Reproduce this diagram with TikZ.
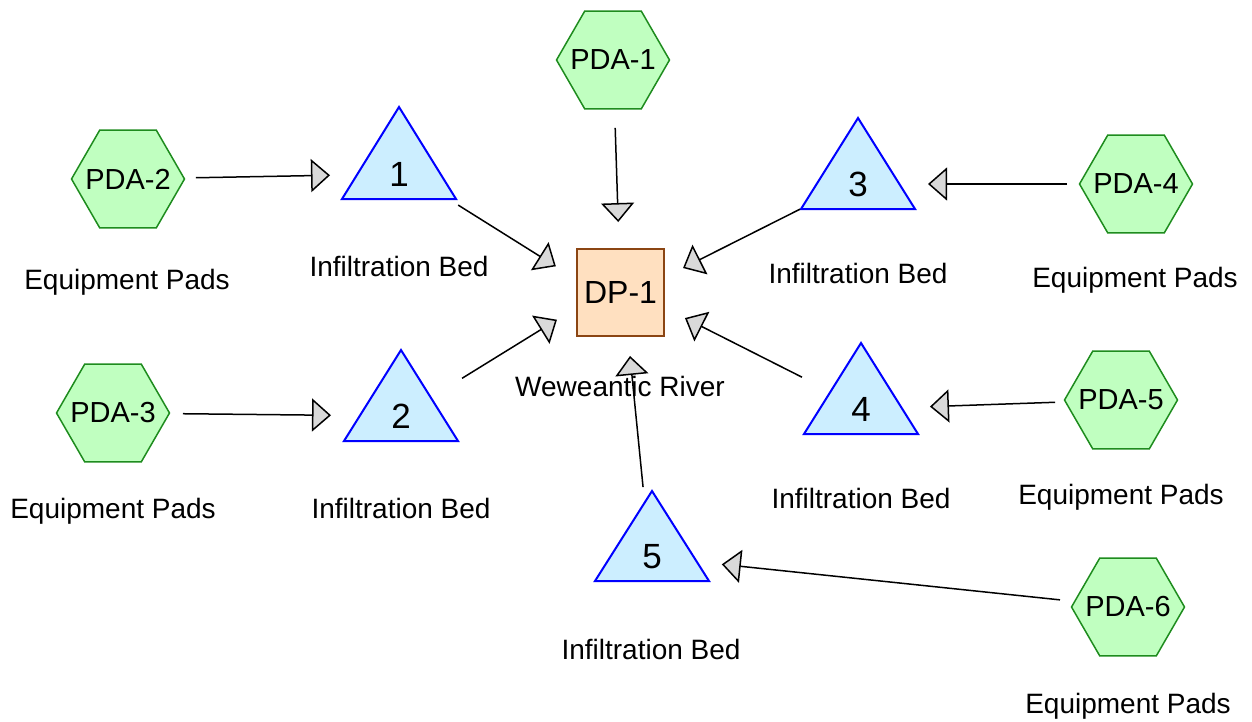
\documentclass[tikz,border=0pt]{standalone}
\usepackage{fontspec}
\setmainfont{Liberation Sans}
\usetikzlibrary{shapes.geometric,arrows.meta}
\definecolor{hexfill}{HTML}{C0FFC0}
\definecolor{hexdraw}{HTML}{1E8C1E}
\definecolor{trifill}{HTML}{CCEEFF}
\definecolor{tridraw}{HTML}{0000FF}
\definecolor{dpfill}{HTML}{FFE0C0}
\definecolor{dpdraw}{HTML}{8B4513}
\definecolor{tipfill}{HTML}{D9D9D9}
\newcommand{\hextext}[1]{\makebox[0pt]{#1}}
\begin{document}
\begin{tikzpicture}[x=0.5pt,y=-0.5pt,
  hexnode/.style={regular polygon, regular polygon sides=6, minimum size=56.5pt, inner sep=0pt, fill=hexfill, draw=hexdraw, line width=0.75pt, font=\fontsize{14.5}{17}\selectfont},
  numnode/.style={inner sep=0pt, font=\fontsize{17.5}{20}\selectfont},
  tripath/.style={fill=trifill, draw=tridraw, line width=1pt, line join=miter},
  dpnode/.style={rectangle, minimum size=43.5pt, inner sep=0pt, fill=dpfill, draw=dpdraw, line width=0.75pt, font=\fontsize{16}{19}\selectfont},
  lbl/.style={anchor=base, inner sep=0pt, font=\fontsize{14}{17}\selectfont},
  conn/.style={line width=0.75pt, -{Triangle[length=9.5pt,width=16.5pt,fill=tipfill]}},
]
\useasboundingbox (0,0) rectangle (1252,722);

% triangles (infiltration beds)
\draw[tripath] (399,107) -- ++(57,92) -- ++(-114,0) -- cycle;
\draw[tripath] (401,350) -- ++(57,91) -- ++(-114,0) -- cycle;
\draw[tripath] (858,118) -- ++(57,91) -- ++(-114,0) -- cycle;
\draw[tripath] (861,343) -- ++(57,91) -- ++(-114,0) -- cycle;
\draw[tripath] (652,491) -- ++(57,90) -- ++(-114,0) -- cycle;

\node[numnode] (t1) at (399,174) {1};
\node[numnode] (t2) at (401,416) {2};
\node[numnode] (t3) at (858,184) {3};
\node[numnode] (t4) at (861,409) {4};
\node[numnode] (t5) at (652,557) {5};

% hexagons
\node[hexnode] (pda1) at (613,60) {\hextext{PDA-1}};
\node[hexnode] (pda2) at (128,179) {\hextext{PDA-2}};
\node[hexnode] (pda3) at (113,413) {\hextext{PDA-3}};
\node[hexnode] (pda4) at (1136,184) {\hextext{PDA-4}};
\node[hexnode] (pda5) at (1121,400) {\hextext{PDA-5}};
\node[hexnode] (pda6) at (1128,607) {\hextext{PDA-6}};

% discharge point
\node[dpnode] (dp) at (620.5,292.5) {DP-1};

% labels
\node[lbl] (l2) at (127,289) {Equipment Pads};
\node[lbl] (l3) at (113,518) {Equipment Pads};
\node[lbl] (l4) at (1135,287) {Equipment Pads};
\node[lbl] (l5) at (1121,504) {Equipment Pads};
\node[lbl] (l6) at (1128,713) {Equipment Pads};
\node[lbl] (b1) at (399,276) {Infiltration Bed};
\node[lbl] (b2) at (401,518) {Infiltration Bed};
\node[lbl] (b3) at (858,283) {Infiltration Bed};
\node[lbl] (b4) at (861,508) {Infiltration Bed};
\node[lbl] (b5) at (651,659) {Infiltration Bed};
\node[lbl] (ld) at (620,396) {Weweantic River};

% connectors
\draw[conn, shorten <=34pt, shorten >=34.5pt] (pda2.center) -- (t1.center);
\draw[conn, shorten <=35pt, shorten >=35pt] (pda3.center) -- (t2.center);
\draw[conn, shorten <=34.5pt, shorten >=35pt] (pda4.center) -- (t3.center);
\draw[conn, shorten <=33pt, shorten >=34.5pt] (pda5.center) -- (t4.center);
\draw[conn, shorten <=34.2pt, shorten >=35.1pt] (pda6.center) -- (t5.center);
\draw[conn, shorten <=34pt, shorten >=35.25pt] (pda1.center) -- (dp.center);
\draw[conn, shorten <=34.9pt, shorten >=38.15pt] ([yshift=3pt]t1.center) -- ([yshift=-7.15pt]dp.center);
\draw[conn, shorten <=35.9pt, shorten >=37.35pt] (t2.center) -- ([yshift=6pt]dp.center);
\draw[conn, shorten <=32.45pt, shorten >=35pt] ([yshift=2pt]t3.center) -- ([yshift=-3.5pt]dp.center);
\draw[conn, shorten <=33.05pt, shorten >=36.1pt] ([yshift=1pt]t4.center) -- ([yshift=3.5pt]dp.center);
\draw[conn, shorten <=35.15pt, shorten >=31.9pt] ([xshift=-1pt]t5.center) -- ([xshift=1.6pt]dp.center);
\end{tikzpicture}
\end{document}
